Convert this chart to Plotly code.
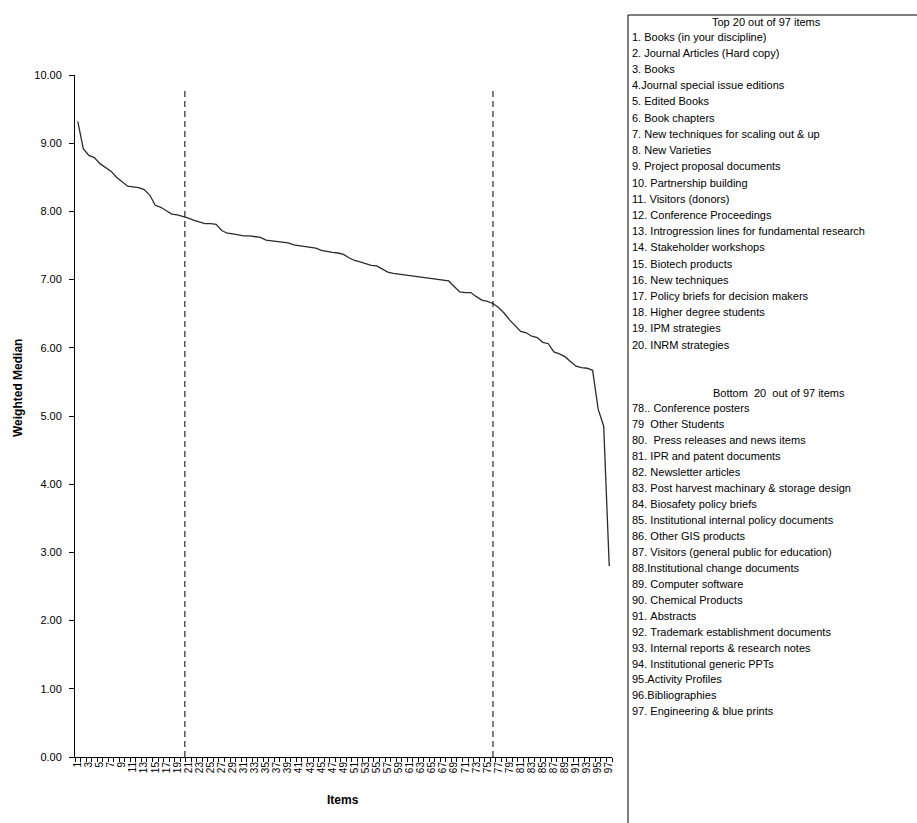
import plotly.graph_objects as go

# ---------------- data ----------------
items = list(range(1, 98))
weighted_median = [
    9.32, 8.92, 8.82, 8.79, 8.70, 8.64, 8.59, 8.50, 8.43, 8.37,
    8.36, 8.35, 8.32, 8.24, 8.09, 8.06, 8.01, 7.96, 7.95, 7.93,
    7.90, 7.87, 7.85, 7.82, 7.82, 7.81, 7.72, 7.68, 7.67, 7.65,
    7.64, 7.64, 7.63, 7.62, 7.58, 7.57, 7.57, 7.56, 7.54, 7.51,
    7.50, 7.49, 7.48, 7.46, 7.43, 7.41, 7.40, 7.39, 7.37, 7.32,
    7.28, 7.26, 7.23, 7.21, 7.20, 7.16, 7.11, 7.09, 7.08, 7.07,
    7.06, 7.04, 7.03, 7.02, 7.01, 7.00, 6.99, 6.98, 6.90, 6.82,
    6.81, 6.81, 6.75, 6.70, 6.68, 6.65, 6.59, 6.51, 6.41, 6.32,
    6.24, 6.22, 6.17, 6.15, 6.08, 6.06, 5.94, 5.91, 5.87, 5.80,
    5.73, 5.71, 5.70, 5.67, 5.10, 4.85, 2.80,
]
x_tick_vals = list(range(1, 98, 2))
x_tick_labels = [str(v) for v in x_tick_vals]
y_tick_vals = [0, 1, 2, 3, 4, 5, 6, 7, 8, 9, 10]
cut_lines = [20.35, 76]

top_title = "Top 20 out of 97 items"
top_items = [
    "1. Books (in your discipline)",
    "2. Journal Articles (Hard copy)",
    "3. Books",
    "4.Journal special issue editions",
    "5. Edited Books",
    "6. Book chapters",
    "7. New techniques for scaling out & up",
    "8. New Varieties",
    "9. Project proposal documents",
    "10. Partnership building",
    "11. Visitors (donors)",
    "12. Conference Proceedings",
    "13. Introgression lines for fundamental research",
    "14. Stakeholder workshops",
    "15. Biotech products",
    "16. New techniques",
    "17. Policy briefs for decision makers",
    "18. Higher degree students",
    "19. IPM strategies",
    "20. INRM strategies",
]
bottom_title = "Bottom  20  out of 97 items"
bottom_items = [
    "78.. Conference posters",
    "79  Other Students",
    "80.  Press releases and news items",
    "81. IPR and patent documents",
    "82. Newsletter articles",
    "83. Post harvest machinary & storage design",
    "84. Biosafety policy briefs",
    "85. Institutional internal policy documents",
    "86. Other GIS products",
    "87. Visitors (general public for education)",
    "88.Institutional change documents",
    "89. Computer software",
    "90. Chemical Products",
    "91. Abstracts",
    "92. Trademark establishment documents",
    "93. Internal reports & research notes",
    "94. Institutional generic PPTs",
    "95.Activity Profiles",
    "96.Bibliographies",
    "97. Engineering & blue prints",
]

# ---------------- layout geometry (pixels) ----------------
W, H = 917, 823
L, R, T, B = 75, 305, 75, 66
PW = W - L - R
PH = H - T - B
FONT = "Liberation Sans, Arial, sans-serif"


def px_x(px):
    return (px - L) / PW


def px_y(py):
    return (H - B - py) / PH


fig = go.Figure()
fig.add_trace(go.Scatter(
    x=items, y=weighted_median, mode="lines",
    line=dict(color="#2b2b2b", width=1.3),
    showlegend=False, hoverinfo="x+y",
))

shapes = []
for cx in cut_lines:
    shapes.append(dict(type="line", xref="x", yref="y", x0=cx, x1=cx,
                       y0=0, y1=9.82,
                       line=dict(color="black", width=1, dash="6px,4px")))
# legend box
shapes.append(dict(type="rect", xref="paper", yref="paper",
                   x0=px_x(628), x1=px_x(930), y0=px_y(840), y1=px_y(15),
                   line=dict(color="black", width=1), fillcolor="rgba(0,0,0,0)"))

annotations = []
annotations.append(dict(text="<b>Weighted Median</b>", xref="paper", yref="paper",
                        x=px_x(18), y=px_y(388), textangle=-90, showarrow=False,
                        xanchor="center", yanchor="middle",
                        font=dict(family=FONT, size=12, color="black")))
annotations.append(dict(text="<b>Items</b>", xref="paper", yref="paper",
                        x=px_x(343), y=px_y(800), showarrow=False,
                        xanchor="center", yanchor="middle",
                        font=dict(family=FONT, size=12, color="black")))

lf = dict(family=FONT, size=11, color="black")
annotations.append(dict(text=top_title, xref="paper", yref="paper",
                        x=px_x(766), y=px_y(21.5), showarrow=False,
                        xanchor="center", yanchor="middle", font=lf))
for k, t in enumerate(top_items):
    annotations.append(dict(text=t, xref="paper", yref="paper",
                            x=px_x(630), y=px_y(36.7 + k * 16.2), showarrow=False,
                            xanchor="left", yanchor="middle", font=lf))
annotations.append(dict(text=bottom_title.replace(" ", "&nbsp;"), xref="paper", yref="paper",
                        x=px_x(779), y=px_y(392.7), showarrow=False,
                        xanchor="center", yanchor="middle", font=lf))
for k, t in enumerate(bottom_items):
    annotations.append(dict(text=t.replace(" ", "&nbsp;"), xref="paper", yref="paper",
                            x=px_x(630), y=px_y(408.3 + k * 15.95), showarrow=False,
                            xanchor="left", yanchor="middle", font=lf))

fig.update_layout(
    width=W, height=H,
    margin=dict(l=L, r=R, t=T, b=B, pad=0),
    paper_bgcolor="white", plot_bgcolor="white",
    shapes=shapes, annotations=annotations,
    font=dict(family=FONT, size=11, color="black"),
    xaxis=dict(
        range=[0.5, 97.5], tickmode="array", tickvals=x_tick_vals,
        ticktext=x_tick_labels, tickangle=-90, ticks="",
        showline=True, linecolor="black", linewidth=1, mirror=False,
        showgrid=False, zeroline=False,
        tickfont=dict(family=FONT, size=10, color="black"),
        minor=dict(ticks="outside", tick0=0.5, dtick=1, ticklen=4,
                   tickcolor="black", tickwidth=1, showgrid=False),
    ),
    yaxis=dict(
        range=[0, 10], tickmode="array", tickvals=y_tick_vals,
        tickformat=".2f", ticks="outside", ticklen=5, tickcolor="black",
        ticklabelstandoff=5,
        showline=True, linecolor="black", linewidth=1,
        showgrid=False, zeroline=False,
        tickfont=dict(family=FONT, size=11, color="black"),
    ),
)

fig.write_html(
    "out.html",
    config={"displayModeBar": False},
    post_script="document.body.style.margin='0';document.body.style.padding='0';"
                "document.documentElement.style.overflow='hidden';",
)
